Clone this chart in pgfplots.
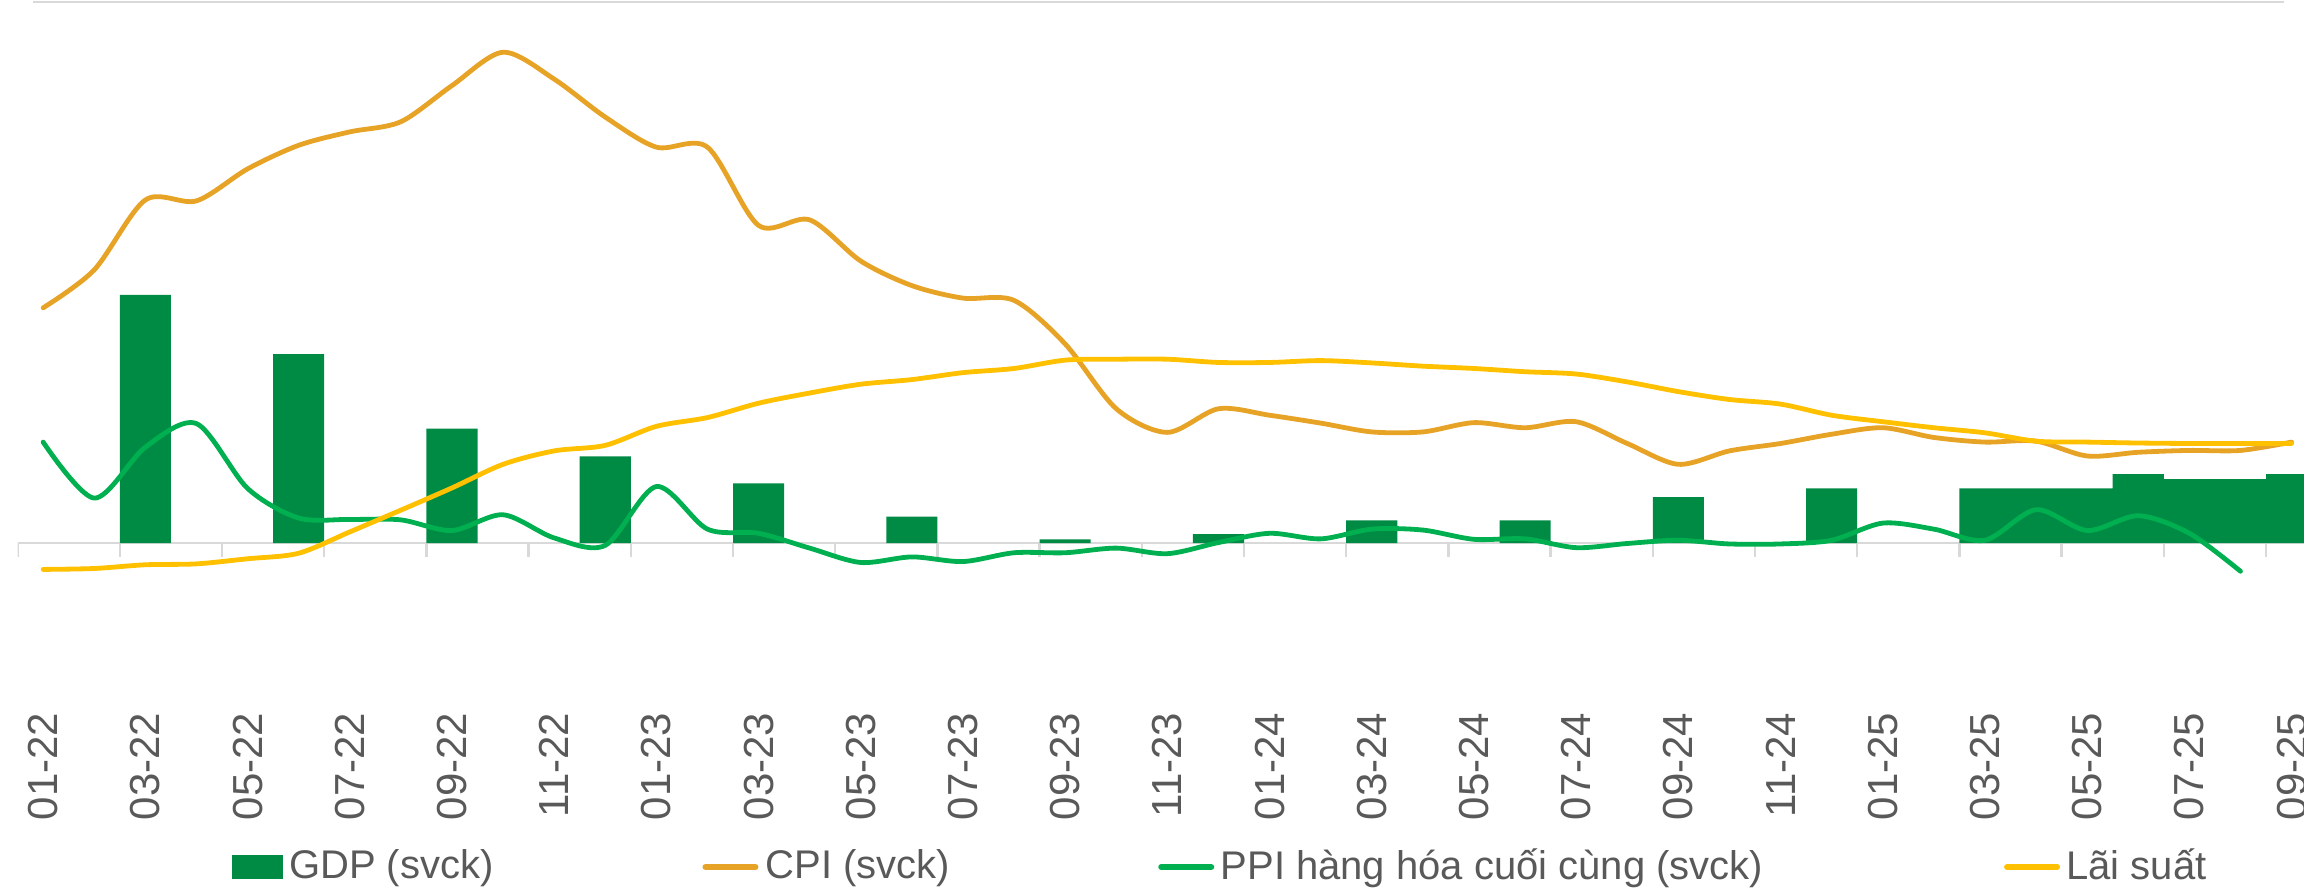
\documentclass[border=0pt]{standalone}
\usepackage{fontspec}
\setmainfont{Liberation Sans}
\usepackage{pgfplots}
\usepackage{pgfplotstable}
\pgfplotsset{compat=1.18}
\definecolor{gdpc}{RGB}{0,139,69}
\definecolor{cpic}{RGB}{230,163,37}
\definecolor{ppic}{RGB}{0,176,80}
\definecolor{ratec}{RGB}{255,192,0}
\definecolor{gridc}{RGB}{217,217,217}
\definecolor{labelc}{RGB}{89,89,89}

\pgfplotstableread{
x y
2 5.36
5 4.08
8 2.47
11 1.87
14 1.29
17 0.57
20 0.08
23 0.19
26 0.49
29 0.49
32 0.99
35 1.18
38 1.18
39 1.18
40 1.18
41 1.49
42 1.38
43 1.38
44 1.49
}\gdp

\pgfplotstableread{
x y
0 5.08
1 5.90
2 7.41
3 7.39
4 8.08
5 8.59
6 8.88
7 9.10
8 9.88
9 10.60
10 10.02
11 9.20
12 8.55
13 8.55
14 6.86
15 6.98
16 6.09
17 5.56
18 5.29
19 5.24
20 4.30
21 2.90
22 2.39
23 2.90
24 2.76
25 2.59
26 2.40
27 2.40
28 2.60
29 2.49
30 2.62
31 2.15
32 1.70
33 1.99
34 2.15
35 2.35
36 2.49
37 2.28
38 2.18
39 2.20
40 1.88
41 1.96
42 2.00
43 2.00
44 2.18
}\cpi

\pgfplotstableread{
x y
0 2.18
1 0.97
2 2.07
3 2.58
4 1.18
5 0.54
6 0.51
7 0.50
8 0.27
9 0.61
10 0.11
11 -0.05
12 1.22
13 0.30
14 0.21
15 -0.11
16 -0.42
17 -0.30
18 -0.40
19 -0.21
20 -0.21
21 -0.11
22 -0.23
23 0.01
24 0.21
25 0.09
26 0.30
27 0.28
28 0.08
29 0.09
30 -0.10
31 -0.01
32 0.06
33 -0.02
34 -0.02
35 0.06
36 0.43
37 0.30
38 0.06
39 0.72
40 0.27
41 0.59
42 0.21
43 -0.61
}\ppi

\pgfplotstableread{
x y
0 -0.57
1 -0.55
2 -0.47
3 -0.45
4 -0.34
5 -0.22
6 0.24
7 0.71
8 1.19
9 1.70
10 1.99
11 2.11
12 2.52
13 2.71
14 3.02
15 3.24
16 3.43
17 3.53
18 3.68
19 3.77
20 3.95
21 3.97
22 3.97
23 3.90
24 3.90
25 3.94
26 3.89
27 3.82
28 3.77
29 3.70
30 3.65
31 3.48
32 3.27
33 3.10
34 3.00
35 2.76
36 2.62
37 2.49
38 2.38
39 2.20
40 2.18
41 2.16
42 2.15
43 2.15
44 2.15
}\rate

\begin{document}
\begin{tikzpicture}[x=1pt,y=1pt]
\path[use as bounding box] (0,0) rectangle (576,-223.25);
\draw[gridc, line width=0.5pt] (8.25,-0.4) -- (571,-0.4);
\begin{axis}[
  at={(4.4pt,-178pt)}, anchor=south west,
  scale only axis, width=571.6pt, height=178pt,
  xmin=-0.5, xmax=44.243, ymin=-3.650, ymax=11.728,
  axis line style={draw=none},
  ytick=\empty,
  xtick={0,2,...,44},
  xticklabels={01-22,03-22,05-22,07-22,09-22,11-22,01-23,03-23,05-23,07-23,09-23,11-23,01-24,03-24,05-24,07-24,09-24,11-24,01-25,03-25,05-25,07-25,09-25},
  major tick length=0pt,
  xticklabel style={rotate=90, anchor=east, inner sep=0pt, font=\fontsize{10.5}{12}\selectfont, text=labelc},
  legend columns=4,
  legend style={at={(axis description cs:0.0938,-0.2177)}, anchor=west, draw=none, fill=none,
    inner sep=0pt, outer sep=0pt,
    nodes={inner sep=0pt, text=labelc, font=\fontsize{10}{12}\selectfont},
    /tikz/every even column/.append style={column sep=0pt},
    /tikz/every odd column/.append style={column sep=0pt}},
]
\draw[gridc, line width=0.6pt] (axis cs:-0.5,0) -- (axis cs:44.243,0);
\pgfplotsinvokeforeach{-0.5,1.5,...,43.5}{\draw[gridc, line width=0.6pt] (axis cs:#1,0) -- ++(0pt,-3.5pt);}

\addplot[ybar, bar width=1, bar shift=0pt, fill=gdpc, draw=none,
  legend image code/.code={\fill[gdpc] (0pt,-2.9pt) rectangle (12.75pt,2.9pt);}] table[x=x,y=y] {\gdp};
\addlegendentry{\makebox[104.25pt][l]{\hspace{1.5pt}GDP (svck)}}

\addplot[cpic, line width=1.2pt, smooth, line cap=round, line join=round, no markers,
  legend image code/.code={\draw[cpic, line width=1.5pt, line cap=round] (0.75pt,0pt) -- (13.25pt,0pt); \path (0pt,0pt) (14pt,0pt);}] table[x=x,y=y] {\cpi};
\addlegendentry{\makebox[98.75pt][l]{\hspace{1.25pt}CPI (svck)}}

\addplot[ppic, line width=1.2pt, smooth, line cap=round, line join=round, no markers,
  legend image code/.code={\draw[ppic, line width=1.5pt, line cap=round] (0.75pt,0pt) -- (13.25pt,0pt); \path (0pt,0pt) (14pt,0pt);}] table[x=x,y=y] {\ppi};
\addlegendentry{\makebox[196.25pt][l]{\hspace{1pt}PPI hàng hóa cuối cùng (svck)}}

\addplot[ratec, line width=1.2pt, smooth, line cap=round, line join=round, no markers,
  legend image code/.code={\draw[ratec, line width=1.5pt, line cap=round] (0.75pt,0pt) -- (13.25pt,0pt); \path (0pt,0pt) (14pt,0pt);}] table[x=x,y=y] {\rate};
\addlegendentry{\hspace{1pt}Lãi suất}
\end{axis}
\end{tikzpicture}
\end{document}
